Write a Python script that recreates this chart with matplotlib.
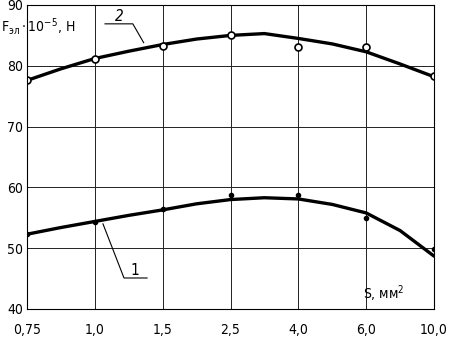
import numpy as np
import matplotlib
matplotlib.use('Agg')
import matplotlib.pyplot as plt

# categories on the x axis (evenly spaced)
s_labels = ['0,75', '1,0', '1,5', '2,5', '4,0', '6,0', '10,0']
y_ticks = [40, 50, 60, 70, 80, 90]

# measured points
pts1 = [52.4, 54.3, 56.4, 58.7, 58.8, 55.0, 49.9]
pts2 = [77.6, 81.2, 83.2, 85.1, 83.1, 83.1, 78.3]

# smooth curves read at half-category steps
curve_x = [0, 0.5, 1, 1.5, 2, 2.5, 3, 3.5, 4, 4.5, 5, 5.5, 6]
curve1 = [52.3, 53.4, 54.4, 55.4, 56.3, 57.3, 58.0, 58.3, 58.1, 57.2, 55.8, 52.9, 48.7]
curve2 = [77.6, 79.5, 81.2, 82.4, 83.5, 84.4, 85.0, 85.3, 84.5, 83.6, 82.3, 80.3, 78.2]

plt.rcParams['font.family'] = ['DejaVu Sans']
plt.rcParams['font.stretch'] = 'condensed'

fig = plt.figure(figsize=(4.59, 3.45), dpi=100)
ax = fig.add_axes([27/459, 36/345, 407/459, 304/345])

x = np.arange(len(s_labels))
ax.plot(curve_x, curve1, color='black', lw=2.4, solid_capstyle='round')
ax.plot(curve_x, curve2, color='black', lw=2.4, solid_capstyle='round')
ax.plot(x, pts1, 'o', color='black', ms=3)
ax.plot(x, pts2, 'o', mfc='white', mec='black', mew=1.2, ms=5)

ax.set_xlim(0, 6)
ax.set_ylim(40, 90)
ax.set_xticks(x)
ax.set_xticklabels(s_labels)
ax.set_yticks(y_ticks)
ax.set_yticklabels([str(v) for v in y_ticks])
ax.tick_params(length=0, labelsize=10, pad=10)
ax.tick_params(axis='y', pad=3)
ax.grid(True, color='#222222', lw=0.7)
for sp in ax.spines.values():
    sp.set_linewidth(0.8)

# leader for curve 2
ax.plot([1.15, 1.56, 1.72], [86.9, 86.9, 83.8], color='black', lw=0.8)
ax.text(1.3, 87.3, '2', fontsize=11, style='italic')
# leader for curve 1
ax.plot([1.12, 1.43, 1.77], [54.0, 45.1, 45.1], color='black', lw=0.8)
ax.text(1.52, 45.6, '1', fontsize=11)

ax.text(-0.38, 85.7, r'$\mathrm{F}_{\mathrm{эл}}\cdot10^{-5}$, Н', fontsize=10,
        ha='left', va='baseline')
ax.text(4.95, 41.6, r'S, мм$^2$', fontsize=10, ha='left')

fig.savefig('out.png', dpi=100)
